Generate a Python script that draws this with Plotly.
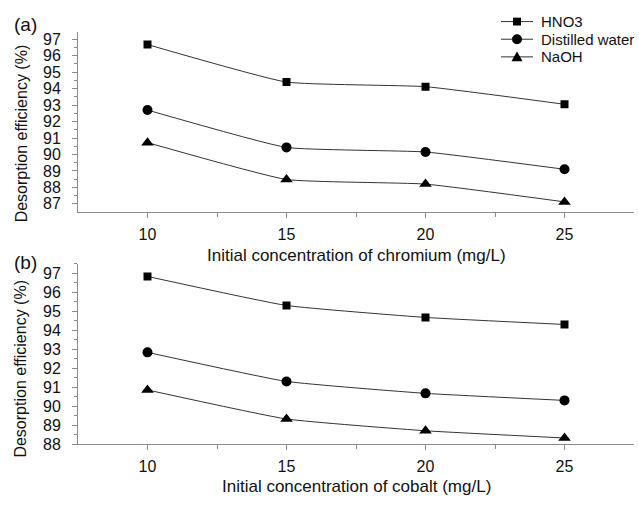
import plotly.graph_objects as go

# Initial concentrations (mg/L)
conc = [10, 15, 20, 25]

# Desorption efficiency (%) - chromium
cr_hno3 = [96.68, 94.4, 94.12, 93.05]
cr_water = [92.7, 90.43, 90.15, 89.1]
cr_naoh = [90.72, 88.48, 88.2, 87.12]

# Desorption efficiency (%) - cobalt
co_hno3 = [96.83, 95.3, 94.67, 94.3]
co_water = [92.83, 91.3, 90.67, 90.3]
co_naoh = [90.85, 89.32, 88.7, 88.32]

series_names = ["HNO3", "Distilled water", "NaOH"]
symbols = ["square", "circle", "triangle-up"]
sizes = [8, 10, 11]

FONT = "Liberation Sans, Arial, sans-serif"
W, H = 639, 506
LINE = "#333333"
AXC = "#8a8a8a"

fig = go.Figure()

panels = [
    ("x", "y", [cr_hno3, cr_water, cr_naoh]),
    ("x2", "y2", [co_hno3, co_water, co_naoh]),
]
for xa, ya, data in panels:
    for name, sym, sz, vals in zip(series_names, symbols, sizes, data):
        fig.add_trace(go.Scatter(
            x=conc, y=vals, name=name, xaxis=xa, yaxis=ya,
            mode="lines+markers",
            line=dict(color=LINE, width=1, shape="spline", smoothing=0.4),
            marker=dict(symbol=sym, size=sz, color="black"),
            showlegend=False,
        ))

xdom = [78 / W, 634 / W]
axis_common = dict(
    showline=True, linecolor=AXC, linewidth=1, showgrid=False,
    zeroline=False, ticks="outside", ticklen=5, tickcolor=AXC,
    tickfont=dict(family=FONT, size=16, color="#111111"),
)
xaxis_common = dict(axis_common, range=[7.5, 27.5], tickvals=[10, 15, 20, 25],
                    ticklabelstandoff=3,
                    minor=dict(tickvals=[12.5, 17.5, 22.5], ticks="outside",
                               ticklen=4, tickcolor=AXC))
yminor = dict(dtick=0.5, ticks="outside", ticklen=3, tickcolor=AXC)

fig.update_layout(
    width=W, height=H, margin=dict(l=0, r=0, t=0, b=0),
    paper_bgcolor="white", plot_bgcolor="white",
    font=dict(family=FONT, size=16, color="#111111"),
    showlegend=False,
    xaxis=dict(xaxis_common, domain=xdom, anchor="y"),
    yaxis=dict(axis_common, domain=[1 - 215 / H, 1 - 32 / H], range=[86.52, 97.42],
               tickvals=list(range(87, 98)), anchor="x", ticklabelstandoff=8,
               minor=yminor),
    xaxis2=dict(xaxis_common, domain=xdom, anchor="y2"),
    yaxis2=dict(axis_common, domain=[1 - 452 / H, 1 - 268 / H], range=[88, 97.5],
                tickvals=list(range(88, 98)), anchor="x2", ticklabelstandoff=8,
                minor=yminor),
)

def px(x):
    return x / W

def py(y):
    return 1 - y / H

# Legend key: line segment, marker and label per series
leg_rows = [21, 39, 57]
x0, x1, xm, xt = 501, 533, 517, 539
for name, sym, row in zip(series_names, symbols, leg_rows):
    fig.add_shape(type="line", xref="paper", yref="paper",
                  x0=px(x0), x1=px(x1), y0=py(row), y1=py(row),
                  line=dict(color=LINE, width=1))
    if sym == "square":
        path = (f"M {px(xm-4)} {py(row-4)} L {px(xm+4)} {py(row-4)} "
                f"L {px(xm+4)} {py(row+4)} L {px(xm-4)} {py(row+4)} Z")
        fig.add_shape(type="path", xref="paper", yref="paper", path=path,
                      fillcolor="black", line=dict(width=0))
    elif sym == "circle":
        fig.add_shape(type="circle", xref="paper", yref="paper",
                      x0=px(xm - 5), x1=px(xm + 5), y0=py(row + 5), y1=py(row - 5),
                      fillcolor="black", line=dict(width=0))
    else:
        path = (f"M {px(xm-5.5)} {py(row+4.5)} L {px(xm+5.5)} {py(row+4.5)} "
                f"L {px(xm)} {py(row-5.5)} Z")
        fig.add_shape(type="path", xref="paper", yref="paper", path=path,
                      fillcolor="black", line=dict(width=0))
    fig.add_annotation(text=name, x=px(xt), y=py(row), xref="paper", yref="paper",
                       xanchor="left", yanchor="middle", showarrow=False,
                       font=dict(family=FONT, size=15, color="#111111"))

annots = [
    dict(text="(a)", x=12, y=24, xanchor="left", size=19),
    dict(text="(b)", x=12, y=267, xanchor="left", size=19),
    dict(text="Initial concentration of chromium (mg/L)", x=356, y=260,
         xanchor="center", size=17),
    dict(text="Initial concentration of cobalt (mg/L)", x=356, y=495,
         xanchor="center", size=17),
]
for a in annots:
    fig.add_annotation(text=a["text"], x=px(a["x"]), y=py(a["y"]), xref="paper",
                       yref="paper", xanchor=a["xanchor"], yanchor="middle",
                       showarrow=False,
                       font=dict(family=FONT, size=a["size"], color="#111111"))

for yc in [135, 375]:
    fig.add_annotation(text="Desorption efficiency (%)", x=px(21), y=py(yc),
                       xref="paper", yref="paper", textangle=-90, showarrow=False,
                       xanchor="center", yanchor="middle",
                       font=dict(family=FONT, size=16, color="#111111"))

fig.write_html("out.html")
